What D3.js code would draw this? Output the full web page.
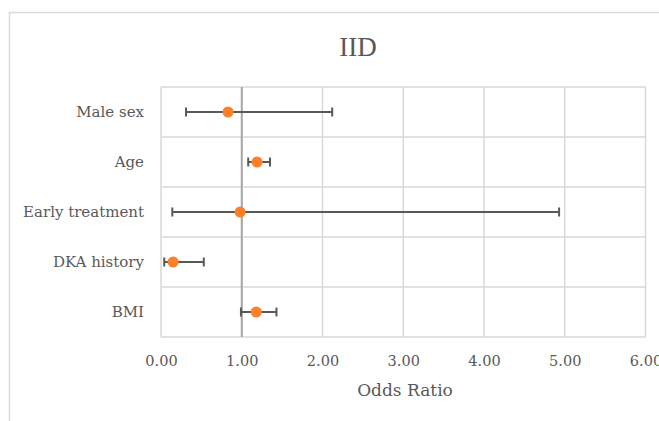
<!DOCTYPE html>
<html>
<head>
<meta charset="utf-8">
<script src="https://cdn.jsdelivr.net/npm/d3@7"></script>
<style>
  html, body { margin: 0; padding: 0; background: #fff; overflow: hidden; }
  svg text { font-family: "Palatino Linotype", "Book Antiqua", Palatino, "DejaVu Serif", serif; fill: #595959; }
</style>
</head>
<body>
<div id="chart"></div>
<script>
// data
var categories = ["Male sex", "Age", "Early treatment", "DKA history", "BMI"];
var oddsRatio = [0.83, 1.19, 0.98, 0.15, 1.18];
var lowerCI   = [0.31, 1.08, 0.14, 0.04, 0.99];
var upperCI   = [2.12, 1.35, 4.93, 0.53, 1.43];
var xTicks = [0, 1, 2, 3, 4, 5, 6];
var titleText = "IID";
var xTitle = "Odds Ratio";

var W = 659, H = 421;
var plot = {left: 161, right: 645.5, top: 87, bottom: 337};

var svg = d3.select("#chart").append("svg")
    .attr("width", W)
    .attr("height", H);

// chart border (cropped on the right and bottom)
svg.append("rect")
    .attr("x", 9.5).attr("y", 12.5)
    .attr("width", 800).attr("height", 600)
    .attr("fill", "none")
    .attr("stroke", "#d9d9d9")
    .attr("stroke-width", 1.5);

var x = d3.scaleLinear().domain([0, 6]).range([plot.left, plot.right]);
var y = d3.scaleBand().domain(categories).range([plot.top, plot.bottom]);

var rows = categories.map(function(c, i){
    return {name: c, or: oddsRatio[i], lo: lowerCI[i], hi: upperCI[i]};
});

// vertical gridlines
svg.append("g").selectAll("line").data(xTicks).enter().append("line")
    .attr("x1", function(d){ return x(d); })
    .attr("x2", function(d){ return x(d); })
    .attr("y1", plot.top).attr("y2", plot.bottom)
    .attr("stroke", "#d9d9d9").attr("stroke-width", 1.5);

// horizontal gridlines (band edges)
var edges = categories.map(function(c){ return y(c); }).concat([plot.bottom]);
svg.append("g").selectAll("line").data(edges).enter().append("line")
    .attr("x1", plot.left).attr("x2", plot.right)
    .attr("y1", function(d){ return d; })
    .attr("y2", function(d){ return d; })
    .attr("stroke", "#d9d9d9").attr("stroke-width", 1.5);

// reference line at OR = 1
svg.append("line")
    .attr("x1", x(1)).attr("x2", x(1))
    .attr("y1", plot.top).attr("y2", plot.bottom)
    .attr("stroke", "#a6a6a6").attr("stroke-width", 2);

// x axis tick labels
var xAxis = d3.axisBottom(x).tickValues(xTicks).tickFormat(d3.format(".2f")).tickSize(0).tickPadding(0);
var gx = svg.append("g").attr("transform", "translate(0," + (plot.bottom + 29) + ")").call(xAxis);
gx.select(".domain").remove();
gx.selectAll("text").attr("font-size", "14.5px").attr("dy", 0)
    .style("font-family", "\"Palatino Linotype\", \"Book Antiqua\", \"DejaVu Serif\", serif")
    .style("fill", "#595959");

// category labels
var yAxis = d3.axisLeft(y).tickSize(0).tickPadding(17);
var gy = svg.append("g").attr("transform", "translate(" + plot.left + ",0)").call(yAxis);
gy.select(".domain").remove();
gy.selectAll("text").attr("font-size", "15px").attr("dy", "0.35em")
    .style("font-family", "\"Palatino Linotype\", \"Book Antiqua\", \"DejaVu Serif\", serif")
    .style("fill", "#595959");

// error bars
var bars = svg.append("g").selectAll("g").data(rows).enter().append("g")
    .attr("transform", function(d){ return "translate(0," + (y(d.name) + y.bandwidth() / 2) + ")"; });
bars.append("line")
    .attr("x1", function(d){ return x(d.lo); })
    .attr("x2", function(d){ return x(d.hi); })
    .attr("stroke", "#595959").attr("stroke-width", 2);
bars.append("line")
    .attr("x1", function(d){ return x(d.lo); })
    .attr("x2", function(d){ return x(d.lo); })
    .attr("y1", -4.5).attr("y2", 4.5)
    .attr("stroke", "#595959").attr("stroke-width", 2);
bars.append("line")
    .attr("x1", function(d){ return x(d.hi); })
    .attr("x2", function(d){ return x(d.hi); })
    .attr("y1", -4.5).attr("y2", 4.5)
    .attr("stroke", "#595959").attr("stroke-width", 2);
bars.append("circle")
    .attr("cx", function(d){ return x(d.or); })
    .attr("r", 5.5)
    .attr("fill", "#ff7f27");

// title
svg.append("text")
    .attr("x", 358).attr("y", 56)
    .attr("text-anchor", "middle")
    .attr("font-size", "27px")
    .style("font-family", "\"Palatino Linotype\", \"Book Antiqua\", \"Liberation Serif\", serif")
    .text(titleText);

// x axis title
svg.append("text")
    .attr("x", 405).attr("y", 396)
    .attr("text-anchor", "middle")
    .attr("font-size", "17px")
    .style("font-family", "\"Palatino Linotype\", \"Book Antiqua\", \"DejaVu Serif\", serif")
    .text(xTitle);
</script>
</body>
</html>
